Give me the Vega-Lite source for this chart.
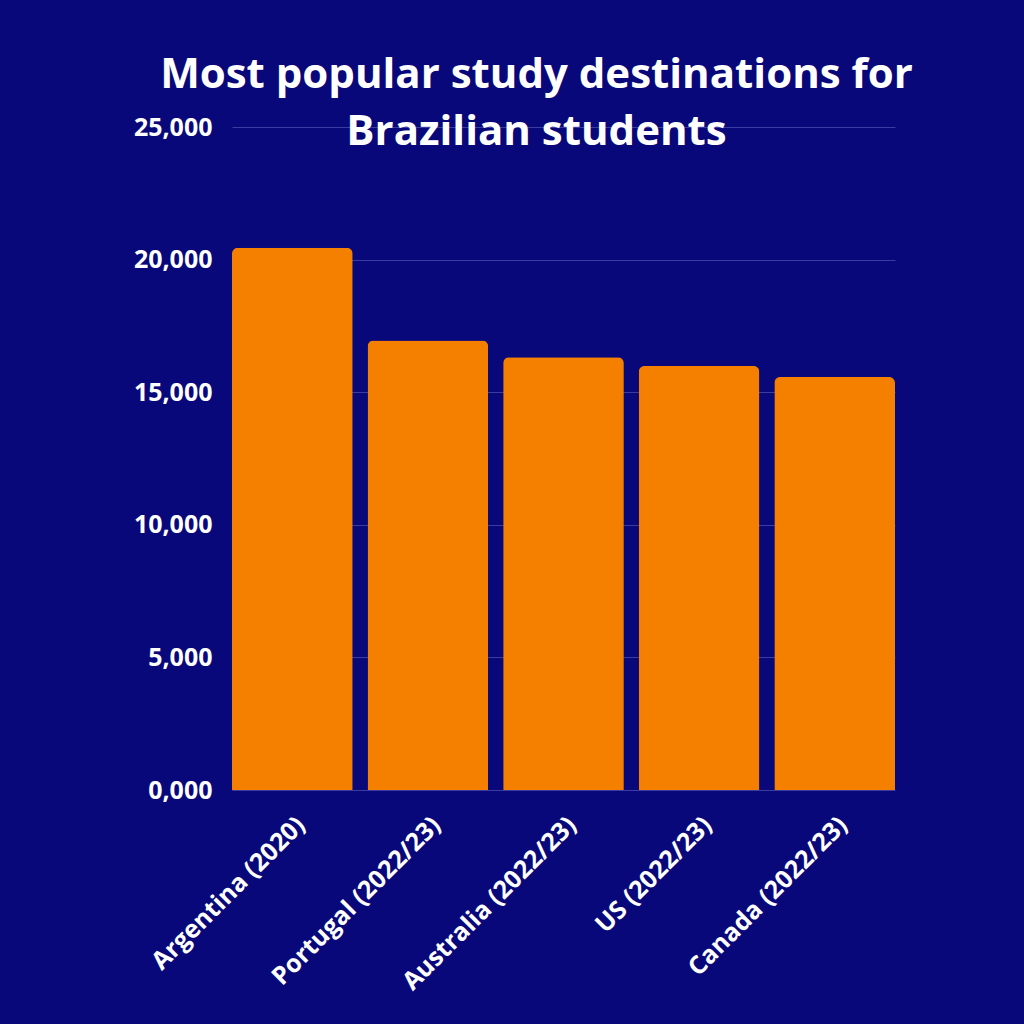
{
  "$schema": "https://vega.github.io/schema/vega-lite/v6.json",
  "width": 663,
  "height": 663,
  "autosize": {"type": "none"},
  "padding": {"left": 232, "top": 127, "right": 129, "bottom": 234},
  "background": "#09087a",
  "title": {
    "text": ["Most popular study destinations for", "Brazilian students"],
    "font": "Open Sans",
    "fontWeight": "bold",
    "fontSize": 42,
    "color": "#ffffff",
    "anchor": "middle",
    "frame": "group",
    "dx": -27,
    "offset": -39,
    "lineHeight": 57
  },
  "data": {
    "values": [
      {"destination": "Argentina (2020)", "students": 20450},
      {"destination": "Portugal (2022/23)", "students": 16950},
      {"destination": "Australia (2022/23)", "students": 16320},
      {"destination": "US (2022/23)", "students": 15990},
      {"destination": "Canada (2022/23)", "students": 15570}
    ]
  },
  "mark": {"type": "bar", "color": "#f58000", "cornerRadiusTopLeft": 6, "cornerRadiusTopRight": 6},
  "encoding": {
    "x": {
      "field": "destination",
      "type": "nominal",
      "sort": null,
      "scale": {"paddingInner": 0.11, "paddingOuter": 0},
      "axis": {
        "title": null,
        "labelAngle": -45,
        "labelFont": "Open Sans",
        "labelFontWeight": "bold",
        "labelFontSize": 25,
        "labelColor": "#ffffff",
        "labelLimit": 0,
        "ticks": false,
        "labelPadding": 22,
        "domain": false
      }
    },
    "y": {
      "field": "students",
      "type": "quantitative",
      "scale": {"domain": [0, 25000]},
      "axis": {
        "title": null,
        "values": [0, 5000, 10000, 15000, 20000, 25000],
        "labelExpr": "datum.value == 0 ? '0,000' : format(datum.value, ',')",
        "labelFont": "Open Sans",
        "labelFontWeight": "bold",
        "labelFontSize": 25,
        "labelColor": "#ffffff",
        "labelPadding": 20,
        "ticks": false,
        "domain": false,
        "gridColor": "#3c3ca0",
        "gridWidth": 1
      }
    }
  },
  "config": {"view": {"stroke": null}}
}
